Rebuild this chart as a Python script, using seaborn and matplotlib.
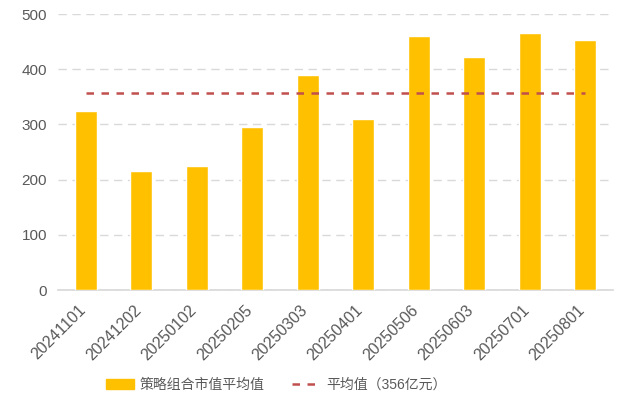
import matplotlib
matplotlib.use("Agg")
import matplotlib.pyplot as plt
import matplotlib.transforms as mtransforms
import seaborn as sns
import pandas as pd
from matplotlib.lines import Line2D
from matplotlib.patches import Patch

dates = ["20241101", "20241202", "20250102", "20250205", "20250303",
         "20250401", "20250506", "20250603", "20250701", "20250801"]
values = [324, 215, 224, 295, 390, 309, 461, 422, 465, 452]
avg_value = 356
bar_label = "策略组合市值平均值"
avg_label = "平均值（356亿元）"

sns.set_theme(style="white")
plt.rcParams['font.family'] = ['Liberation Sans', 'Noto Sans CJK SC', 'DejaVu Sans']

df = pd.DataFrame({"date": dates, "value": values})

fig = plt.figure(figsize=(6.21, 3.96), dpi=100)
ax = fig.add_axes([58/621, 1-290/396, (613-58)/621, (290-14)/396])

bar_color = "#FFC000"
line_color = "#C0504D"

sns.barplot(data=df, x="date", y="value", color=bar_color, width=0.4,
            saturation=1, ax=ax, zorder=3)
ax.hlines(avg_value, 0, len(dates) - 1, colors=line_color, linestyles=(0, (3, 3)),
          linewidth=1.8, zorder=4)

ax.set_ylim(0, 500)
ax.set_xlim(-0.5, len(dates) - 0.5)
ax.set_yticks([0, 100, 200, 300, 400, 500])
ax.yaxis.grid(True, color="#D9D9D9", linestyle=(0, (6, 4)), linewidth=1, zorder=0)
ax.set_xlabel("")
ax.set_ylabel("")
for s in ["top", "right", "left"]:
    ax.spines[s].set_visible(False)
ax.spines["bottom"].set_color("#D9D9D9")
ax.tick_params(axis="y", colors="#595959", labelsize=11, length=0, pad=8)
ax.tick_params(axis="x", colors="#595959", labelsize=11.5, length=0, pad=9)
offset = mtransforms.ScaledTranslation(-8/100, 0, fig.dpi_scale_trans)
for lab in ax.get_xticklabels():
    lab.set_rotation(45)
    lab.set_ha("right")
    lab.set_rotation_mode("anchor")
    lab.set_transform(lab.get_transform() + offset)

handles = [Patch(color=bar_color, label=bar_label),
           Line2D([0], [0], color=line_color, linestyle=(0, (3, 3)), linewidth=1.8, label=avg_label)]
fig.legend(handles=handles, loc="center", bbox_to_anchor=(0.445, 1 - 385/396), ncol=2,
           frameon=False, fontsize=10, handlelength=2, handletextpad=0.4,
           columnspacing=2, labelcolor="#595959", bbox_transform=fig.transFigure)

fig.savefig("out.png", dpi=100)
